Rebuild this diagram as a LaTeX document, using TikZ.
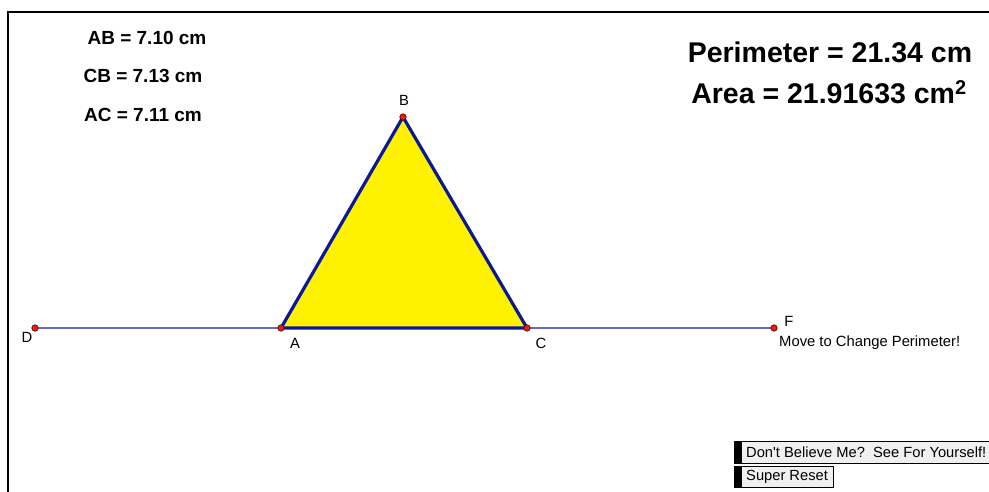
\documentclass[tikz,border=0pt]{standalone}
\usepackage{fontspec}
\setmainfont{Liberation Sans}
\definecolor{edgeblue}{RGB}{12,24,150}
\definecolor{lineblue}{RGB}{100,108,200}
\definecolor{ptred}{RGB}{230,30,10}
\definecolor{btnfill}{RGB}{240,240,240}
\tikzset{
  pt/.style={circle,draw=black!70!red,fill=ptred,line width=0.6pt,inner sep=0pt,minimum size=6.5pt},
  lbl/.style={font=\fontsize{14.8}{17}\selectfont,inner sep=0pt},
  meas/.style={font=\fontsize{19}{22}\selectfont\bfseries,inner sep=0pt},
  big/.style={font=\fontsize{28.5}{32}\selectfont\bfseries,inner sep=0pt},
  btn/.style={draw=black,line width=1pt,fill=btnfill},
  btntext/.style={font=\fontsize{14.7}{17}\selectfont,inner sep=0pt,anchor=west}
}
\begin{document}
\begin{tikzpicture}[x=1pt,y=-1pt]
\useasboundingbox (0,0) rectangle (989,492);
\fill[white] (0,0) rectangle (989,492);
% frame
\draw[line width=2pt] (989,12.5) -- (8,12.5) -- (8,492);
% points
\coordinate (Dc) at (35,328);
\coordinate (Ac) at (281,328);
\coordinate (Cc) at (527,328);
\coordinate (Fc) at (774,328);
\coordinate (Bc) at (403,117);
% base line
\draw[lineblue,line width=1.4pt] (Dc) -- (Fc);
% triangle
\filldraw[fill=yellow,draw=edgeblue,line width=3.2pt,line join=round] (Ac) -- (Bc) -- (Cc) -- cycle;
\node[pt] (D) at (Dc) {};
\node[pt] (A) at (Ac) {};
\node[pt] (C) at (Cc) {};
\node[pt] (F) at (Fc) {};
\node[pt] (B) at (Bc) {};
% labels
\node[lbl] (lD) at (27,337) {D};
\node[lbl] (lA) at (295,343) {A};
\node[lbl] (lC) at (541,343) {C};
\node[lbl] (lB) at (404,100) {B};
\node[lbl] (lF) at (789,321) {F};
\node[lbl,anchor=west] (move) at (779,343) {Move to Change Perimeter!};
% measurements
\node[meas] (ab) at (147,38) {AB = 7.10 cm};
\node[meas] (cb) at (143,76) {CB = 7.13 cm};
\node[meas] (ac) at (143,115) {AC = 7.11 cm};
\node[big] (per) at (830,52) {Perimeter = 21.34 cm};
\node[big] (area) at (829,92) {Area = 21.91633 cm\textsuperscript{\bfseries 2}};
% buttons
\draw[btn] (734,441) rectangle (995,463);
\fill[black] (734,441) rectangle (742,463);
\node[btntext] (b1) at (746,452) {Don\textquotesingle t Believe Me?\ \ See For Yourself!};
\draw[btn] (734,466) rectangle (833,487);
\fill[black] (734,466) rectangle (742,487);
\node[btntext] (b2) at (746,476.5) {Super Reset};
\end{tikzpicture}
\end{document}
